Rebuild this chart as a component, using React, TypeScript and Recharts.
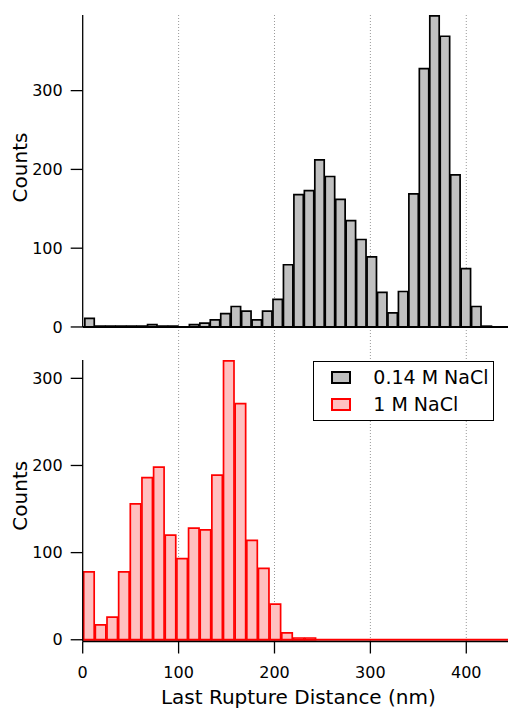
import React from "react";
import {
  BarChart,
  Bar,
  XAxis,
  YAxis,
  CartesianGrid,
  ReferenceLine,
  Legend,
  Label,
} from "recharts";

// histogram bins (nm)
const topBinStart = 1.2;
const topBinWidth = 10.9;
const topCounts = [
  11, 1, 1, 1, 1, 1, 3, 1, 1, 0, 3, 5, 9, 17, 26, 20, 9, 20, 35, 79, 168, 173,
  212, 191, 162, 135, 111, 89, 44, 18, 45, 169, 328, 395, 369, 193, 74, 26, 1,
  0, 0,
];

const bottomBinStart = 0;
const bottomBinWidth = 12.15;
const bottomCounts = [
  78, 17, 26, 78, 156, 186, 198, 120, 93, 128, 126, 189, 320, 271, 114, 82, 41,
  8, 2, 2, 0, 0, 0, 0, 0, 0, 0, 0, 0, 0, 0, 0, 0, 0, 0, 0,
];

const xTicks = [0, 100, 200, 300, 400];
const gridValues = [100, 200, 300, 400];
const yTicks = [0, 100, 200, 300];

const series = [
  { name: "0.14 M NaCl", fill: "#c0c0c0", stroke: "#000000" },
  { name: "1 M NaCl", fill: "#ffc0c0", stroke: "#ff0000" },
];

const W = 508;
const AXIS_W = 82.7;
const X_MAX = 443.5;
const pxPerNm = (W - AXIS_W) / X_MAX;
const FONT = "'DejaVu Sans', Verdana, sans-serif";

function toBins(start: number, width: number, counts: number[]) {
  return counts.map((c, i) => ({ x: start + (i + 0.5) * width, count: c }));
}

const topData = toBins(topBinStart, topBinWidth, topCounts);
const bottomData = toBins(bottomBinStart, bottomBinWidth, bottomCounts);

const tickStyle = { fontSize: 16, fill: "#000", fontFamily: FONT };

function LegendBox() {
  return (
    <div
      style={{
        width: 181,
        height: 60,
        border: "1.2px solid #000",
        boxSizing: "border-box",
        background: "#fff",
        padding: "3px 0 0 17px",
        fontFamily: FONT,
      }}
    >
      {series.map((s) => (
        <div
          key={s.name}
          style={{ display: "flex", alignItems: "center", height: 26.3 }}
        >
          <span
            style={{
              width: 20,
              height: 13,
              boxSizing: "border-box",
              border: `2px solid ${s.stroke}`,
              background: s.fill,
              marginRight: 22,
            }}
          />
          <span style={{ fontSize: 19, color: "#000", lineHeight: 1 }}>
            {s.name}
          </span>
        </div>
      ))}
    </div>
  );
}

export default function App() {
  return (
    <div
      style={{
        position: "absolute",
        left: 0,
        top: 0,
        width: W,
        height: 709,
        background: "#fff",
        fontFamily: FONT,
      }}
    >
      {/* top panel: 0.14 M NaCl */}
      <div style={{ position: "absolute", left: 0, top: 0 }}>
        <BarChart
          width={W}
          height={340}
          data={topData}
          margin={{ top: 15, right: 0, bottom: 2, left: 0 }}
          barCategoryGap={0}
          barGap={0}
        >
          <CartesianGrid
            horizontal={false}
            vertical
            verticalValues={gridValues}
            stroke="#999"
            strokeDasharray="1 2"
          />
          <XAxis
            dataKey="x"
            type="number"
            domain={[0, X_MAX]}
            ticks={xTicks}
            allowDataOverflow
            hide
          />
          <YAxis
            type="number"
            domain={[-14, 396]}
            ticks={yTicks}
            interval={0}
            allowDataOverflow
            width={AXIS_W}
            axisLine={false}
            tickLine={{ stroke: "#000", strokeWidth: 1.3 }}
            tickSize={12}
            tickMargin={8}
            tick={tickStyle}
          >
            <Label
              value="Counts"
              angle={-90}
              position="insideLeft"
              offset={20}
              dy={-9}
              style={{ textAnchor: "middle", fontSize: 20, fill: "#000", fontFamily: FONT }}
            />
          </YAxis>
          <Bar
            dataKey="count"
            name={series[0].name}
            fill={series[0].fill}
            stroke={series[0].stroke}
            strokeWidth={1.7}
            barSize={topBinWidth * pxPerNm}
            isAnimationActive={false}
          />
          <ReferenceLine y={0} stroke="#000" strokeWidth={2} />
          <ReferenceLine
            segment={[
              { x: 0, y: 0 },
              { x: 0, y: 396 },
            ]}
            stroke="#000"
            strokeWidth={1.3}
          />
        </BarChart>
      </div>

      {/* bottom panel: 1 M NaCl */}
      <div style={{ position: "absolute", left: 0, top: 340 }}>
        <BarChart
          width={W}
          height={369}
          data={bottomData}
          margin={{ top: 0, right: 0, bottom: 5.5, left: 0 }}
          barCategoryGap={0}
          barGap={0}
        >
          <CartesianGrid
            horizontal={false}
            vertical
            verticalValues={gridValues}
            stroke="#999"
            strokeDasharray="1 2"
          />
          <XAxis
            dataKey="x"
            type="number"
            domain={[0, X_MAX]}
            ticks={xTicks}
            interval={0}
            allowDataOverflow
            height={62}
            axisLine={{ stroke: "#000", strokeWidth: 1.5 }}
            tickLine={{ stroke: "#000", strokeWidth: 1.3 }}
            tickSize={12}
            tickMargin={13}
            tick={tickStyle}
          >
            <Label
              value="Last Rupture Distance (nm)"
              position="insideBottom"
              offset={0}
              dx={3}
              style={{ fontSize: 20, fill: "#000", fontFamily: FONT }}
            />
          </XAxis>
          <YAxis
            type="number"
            domain={[-2, 344]}
            ticks={yTicks}
            interval={0}
            allowDataOverflow
            width={AXIS_W}
            axisLine={false}
            tickLine={{ stroke: "#000", strokeWidth: 1.3 }}
            tickSize={12}
            tickMargin={8}
            tick={tickStyle}
          >
            <Label
              value="Counts"
              angle={-90}
              position="insideLeft"
              offset={20}
              dy={5}
              style={{ textAnchor: "middle", fontSize: 20, fill: "#000", fontFamily: FONT }}
            />
          </YAxis>
          <Bar
            dataKey="count"
            name={series[1].name}
            fill={series[1].fill}
            stroke={series[1].stroke}
            strokeWidth={1.7}
            barSize={bottomBinWidth * pxPerNm}
            isAnimationActive={false}
          />
          <ReferenceLine y={0} stroke="#ff0000" strokeWidth={2} />
          <ReferenceLine
            segment={[
              { x: 0, y: -2 },
              { x: 0, y: 321 },
            ]}
            stroke="#000"
            strokeWidth={1.3}
          />
          <Legend
            layout="vertical"
            align="center"
            verticalAlign="middle"
            wrapperStyle={{ top: 20.7, left: 313.3, width: 181 }}
            content={() => <LegendBox />}
          />
        </BarChart>
      </div>
    </div>
  );
}
